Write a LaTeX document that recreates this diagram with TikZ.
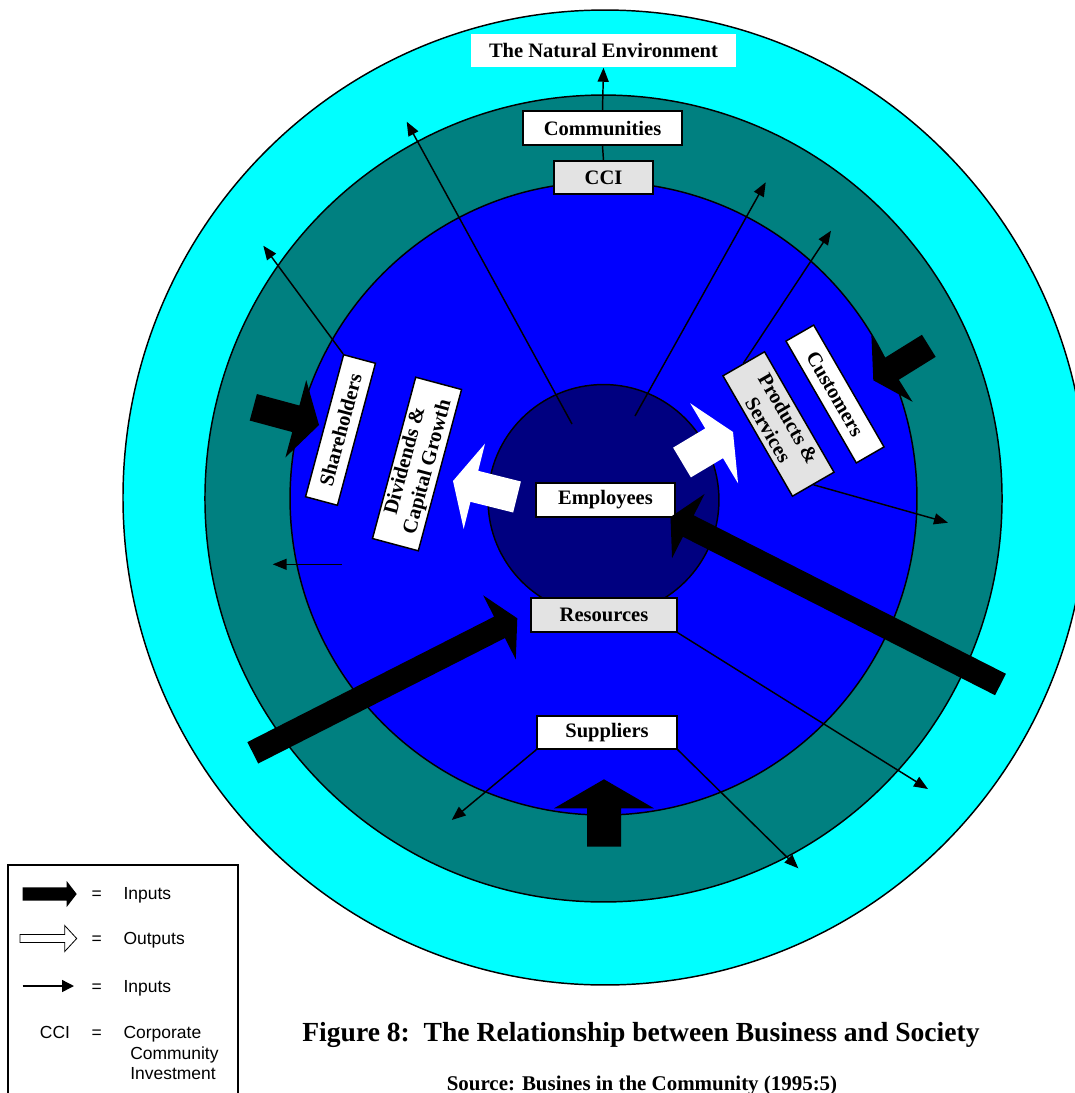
\documentclass[tikz,border=0pt]{standalone}
\usepackage{fontspec}
\setmainfont{Liberation Serif}
\newfontfamily\legendfont{Liberation Sans}
\usetikzlibrary{calc,arrows.meta}
\definecolor{envcyan}{RGB}{0,255,255}
\definecolor{commteal}{RGB}{0,128,128}
\definecolor{bizblue}{RGB}{0,0,255}
\definecolor{corenavy}{RGB}{0,0,128}
\definecolor{boxgray}{RGB}{227,227,227}
% #1 style, #2 tail coordinate, #3 tip coordinate, #4 half shaft, #5 half head, #6 head length
\newcommand\blockarrow[6]{%
  \coordinate (baB) at ($(#3)!#6!(#2)$);
  \path[#1] ($(#2)!#4!90:(#3)$) -- ($(baB)!#4!90:(#3)$) -- ($(baB)!#5!90:(#3)$) -- (#3)
     -- ($(baB)!#5!-90:(#3)$) -- ($(baB)!#4!-90:(#3)$) -- ($(#2)!#4!-90:(#3)$) -- cycle;
}
\newcommand\nodefnt{\fontsize{15.4pt}{17.5pt}\selectfont\bfseries}
\newcommand\legfnt{\legendfont\fontsize{13.1pt}{15pt}\selectfont}
\begin{document}
\begin{tikzpicture}[x=0.75pt,y=-0.75pt,line join=miter,
  ring/.style={draw=black,line width=1.1pt},
  box/.style={draw=black,line width=1.1pt,fill=white,inner sep=0pt,font=\nodefnt,align=center},
  graybox/.style={box,fill=boxgray},
  thinarrow/.style={line width=1.1pt,-{Triangle[length=10.5pt,width=8.25pt]}},
  plainline/.style={line width=1.1pt},
  inarrow/.style={fill=black},
  outarrow/.style={fill=white},
  legtext/.style={font=\legfnt,inner sep=0pt}]
\useasboundingbox (0,0) rectangle (1075,1093);
\fill[white] (0,0) rectangle (1075,1093);

% rings
\draw[ring,fill=envcyan] (605,497.5) ellipse [x radius=361.5pt,y radius=365.6pt];
\draw[ring,fill=commteal] (603.5,498.5) ellipse [x radius=298.9pt,y radius=302.6pt];
\draw[ring,fill=bizblue] (603.5,498.5) ellipse [x radius=235.1pt,y radius=237.4pt];
\draw[ring,fill=corenavy] (603.5,500) circle [radius=86.6pt];

% nodes
\node[box,draw=none,minimum width=198.75pt,minimum height=24.75pt] (nat) at (603.5,50.5) {The Natural Environment};
\node[box,minimum width=119.25pt,minimum height=25.5pt] (com) at (602.5,128) {Communities};
\node[graybox,minimum width=74.25pt,minimum height=24.75pt] (cci) at (603.5,177.5) {CCI};
\node[box,minimum width=104.25pt,minimum height=25.5pt] (emp) at (605.5,500) {Employees};
\node[graybox,minimum width=109.5pt,minimum height=25.5pt] (res) at (604,615) {Resources};
\node[box,minimum width=105pt,minimum height=24.75pt] (sup) at (607,732.5) {Suppliers};
\node[box,rotate=75,minimum width=110.25pt,minimum height=24.75pt] (sh) at (340.5,430) {Shareholders};
\node[box,rotate=75,minimum width=125.25pt,minimum height=35.6pt] (div) at (417,464) {Dividends \&\\Capital Growth};
\node[graybox,rotate=-60,minimum width=104.25pt,minimum height=36pt] (ps) at (778.5,424) {Products \&\\Services};
\node[box,rotate=-60,minimum width=105.5pt,minimum height=24pt] (cu) at (835,394) {Customers};

% thin connectors
\coordinate (shEnd) at (263.3,245.7);
\coordinate (c1s) at (572,424);
\coordinate (c1e) at (406.7,121.7);
\coordinate (c2s) at (635,416);
\coordinate (c2e) at (765.7,182.3);
\coordinate (psEndA) at (831,230.7);
\coordinate (psEndB) at (948,522.7);
\coordinate (leftS) at (341.7,564.3);
\coordinate (leftE) at (272.7,564.3);
\coordinate (resEnd) at (928,789);
\coordinate (supEndA) at (451.7,820);
\coordinate (supEndB) at (798.3,868.3);

\draw[thinarrow] (com.north) -- (nat.south);
\draw[plainline] (cci.north) -- (com.south);
\draw[thinarrow] (sh.north east) -- (shEnd);
\draw[thinarrow] (c1s) -- (c1e);
\draw[thinarrow] (c2s) -- (c2e);
\draw[thinarrow] (ps.west) -- (psEndA);
\draw[thinarrow] (ps.east) -- (psEndB);
\draw[thinarrow] (leftS) -- (leftE);
\draw[thinarrow] (res.south east) -- (resEnd);
\draw[thinarrow] (sup.south west) -- (supEndA);
\draw[thinarrow] (sup.south east) -- (supEndB);

% thick arrows
\coordinate (aAt) at (252.8,752.8);  \coordinate (aAh) at (517.3,618.3);
\coordinate (aBt) at (1000.5,684.5); \coordinate (aBh) at (670.5,517);
\coordinate (aCt) at (253.3,407.3);  \coordinate (aCh) at (319,425);
\coordinate (aDt) at (928.8,345.8);  \coordinate (aDh) at (873.3,380.3);
\coordinate (aEt) at (604,846.7);    \coordinate (aEh) at (604,779.3);
\coordinate (wAt) at (517,497);      \coordinate (wAh) at (453,481);
\coordinate (wBt) at (682,462.5);    \coordinate (wBh) at (733,432);

\blockarrow{outarrow}{wAt}{wAh}{12pt}{33pt}{16.5pt}
\blockarrow{outarrow}{wBt}{wBh}{13pt}{35pt}{16.5pt}
\blockarrow{inarrow}{aAt}{aAh}{9pt}{27pt}{15pt}
\blockarrow{inarrow}{aBt}{aBh}{9pt}{27pt}{15pt}
\blockarrow{inarrow}{aCt}{aCh}{10.3pt}{30pt}{18pt}
\blockarrow{inarrow}{aDt}{aDh}{9.75pt}{29.25pt}{16.5pt}
\blockarrow{inarrow}{aEt}{aEh}{12.75pt}{37.5pt}{21.75pt}

% legend
\draw[line width=0.8pt] (8,1100) -- (8,865) -- (238,865) -- (238,1100);
\coordinate (lAt) at (22.7,894); \coordinate (lAh) at (76.7,894);
\coordinate (lBt) at (20,938.5); \coordinate (lBh) at (76.7,938.5);
\coordinate (lCt) at (22.7,986); \coordinate (lCh) at (74,986);
\blockarrow{inarrow}{lAt}{lAh}{5pt}{9.75pt}{7.5pt}
\blockarrow{fill=white,draw=black,line width=0.6pt}{lBt}{lBh}{3pt}{9.75pt}{9pt}
\draw[line width=1.1pt,-{Triangle[length=9pt,width=9pt]}] (lCt) -- (lCh);
\node[legtext,anchor=base] (eqA) at (96.7,899.3) {=};
\node[legtext,anchor=base west] (inA) at (123.3,899.3) {Inputs};
\node[legtext,anchor=base] (eqB) at (96.7,944.8) {=};
\node[legtext,anchor=base west] (outB) at (123.3,944.8) {Outputs};
\node[legtext,anchor=base] (eqC) at (96.7,992.3) {=};
\node[legtext,anchor=base west] (inC) at (123.3,992.3) {Inputs};
\node[legtext,anchor=base] (cciL) at (55,1038) {CCI};
\node[legtext,anchor=base] (eqD) at (96.7,1038) {=};
\node[legtext,anchor=base west] (corp) at (123.3,1038) {Corporate};
\node[legtext,anchor=base west] (commL) at (130,1059.5) {Community};
\node[legtext,anchor=base west] (inv) at (130,1079.5) {Investment};

% caption
\node[font=\fontsize{20.7pt}{24pt}\selectfont\bfseries,anchor=base,inner sep=0pt] (cap) at (641,1041) {Figure 8:\ \ The Relationship between Business and Society};
\node[font=\fontsize{15.7pt}{18pt}\selectfont\bfseries,anchor=base,inner sep=0pt] (src) at (642,1090) {Source: Busines in the Community (1995:5)};
\end{tikzpicture}
\end{document}
